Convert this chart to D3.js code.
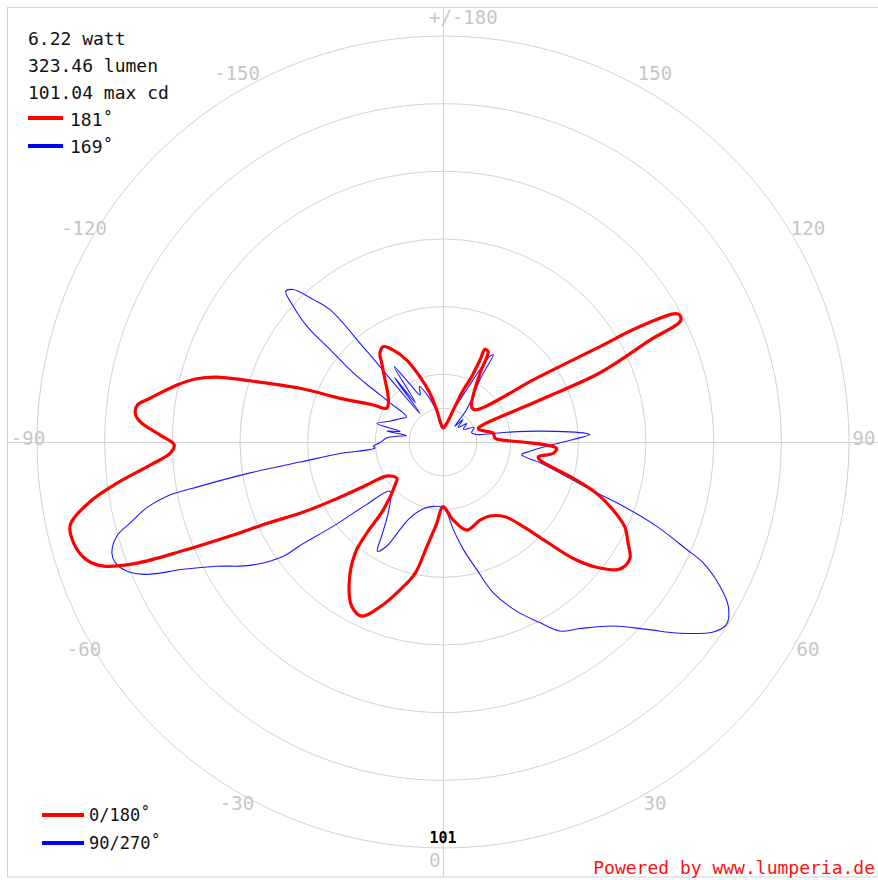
<!DOCTYPE html>
<html>
<head>
<meta charset="utf-8">
<script src="https://cdn.jsdelivr.net/npm/d3@7"></script>
<style>
  body { margin: 0; background: #fff; }
  svg { display: block; }
</style>
</head>
<body>
<div id="plot"></div>
<script>
// Chart size and polar centre
const width = 878;
const height = 880;
const cx = 443, cy = 442, radius = 406;

// Texts and ticks
const maxCd = 101.04;
const infoLines = ["6.22 watt", "323.46 lumen", "101.04 max cd"];
const beamLabels = ["181˚", "169˚"];
const planeLabels = ["0/180˚", "90/270˚"];
const ringValues = [8.42, 16.84, 33.68, 50.52, 67.36, 84.2, 101.04];
const angleTicks = [-150, -120, -90, -60, -30, 0, 30, 60, 90, 120, 150, 180];
const angleTickLabels = ["-150", "-120", "-90", "-60", "-30", "0", "30", "60", "90", "120", "150", "+/-180"];

// C0/180 plane (red), angle in degrees, intensity in cd
const redAngles = [-180, -168.9, -165.1, -160.6, -156.1, -151.6, -147.9, -144.6, -142.1, -136.9,
  -129.6, -121.1, -118, -113, -110.6, -107.6, -106, -104.4, -102.1, -98.5,
  -96.9, -95.3, -93.8, -91.4, -89.4, -87.6, -85.5, -82.8, -80.4, -77.5,
  -74.7, -71.7, -69.9, -68.4, -67.3, -66.1, -65.2, -63.5, -62.1, -60.6,
  -58.9, -51.9, -48.1, -41.3, -39.9, -38.3, -33.6, -29, -25, -20.9,
  -16.2, -12, -8.8, -4.4, 0, 7.5, 15.1, 25.4, 32.4, 39.7,
  43.5, 46.1, 48.2, 50.8, 54.3, 58.1, 61.3, 65, 68.2, 71.5,
  74.4, 79.5, 81.2, 84.2, 86.8, 88.3, 90.2, 94.1, 99.8, 108,
  111.2, 113.4, 113.8, 116.2, 117.1, 118.6, 120.4, 121.3, 124.3, 135,
  140.9, 151.7, 153.4, 155.6, 155.7, 156.3, 158.7, 162.2, 168.8];
const redValues = [3.5, 8.1, 12.5, 17.2, 22.3, 26, 28, 27.1, 24.8, 21.1,
  17.7, 16.3, 19.6, 27.8, 38, 50.4, 58.6, 63.3, 67.7, 73.7,
  76.6, 76.9, 75.5, 70.4, 66.9, 68, 73.1, 81.8, 89.1, 95,
  95.3, 93.4, 89.9, 81.9, 70, 57.1, 48.3, 39.8, 30.9, 21.8,
  16.4, 14.6, 16, 22.5, 29.6, 35.3, 42.2, 46.8, 47.8, 43.9,
  38.3, 33.4, 26.4, 20.3, 16.1, 19.6, 22.7, 21.5, 21.8, 24.2,
  29, 35.8, 43.5, 49.3, 54.2, 54.8, 52.5, 49.9, 45.6, 40.3,
  33.7, 24.5, 24, 27.6, 28.3, 25.8, 19.2, 13, 12.7, 9.7,
  9.4, 26.3, 42.7, 57.4, 66.5, 66.6, 56.8, 45.7, 28.3, 11.3,
  11.3, 19.4, 25.1, 25.3, 22.4, 17.7, 13.9, 8.4, 4.7];

// C90/270 plane (blue)
const blueAngles = [-180, -175, -168, -162, -157, -154, -150, -147, -145, -143,
  -141, -140, -139.5, -137.7, -135.5, -133.8, -132.2, -130.4, -129.3, -127.6,
  -127, -126.5, -124.5, -118.4, -111.4, -105.6, -104, -101, -100, -97.1,
  -94.3, -89.3, -86.6, -85, -83.6, -82, -80.9, -79.7, -78.9, -77.5,
  -75.5, -73.9, -71.5, -69.8, -67.8, -65.9, -63.9, -61.2, -57.4, -54.4,
  -54.1, -52.5, -50.7, -47.1, -37.7, -33.1, -31, -28.4, -26.2, -23.5,
  -16.4, -8.6, -1.1, 3, 6.7, 10.7, 14.8, 18.4, 23.5, 28.2,
  31.7, 36.3, 42.8, 47.4, 51.1, 54.9, 57.2, 60.1, 62.5, 65.1,
  66.2, 68.5, 70.4, 72.1, 75.6, 77.9, 80, 81, 84, 88.7,
  91.1, 92.9, 93.4, 96.4, 98.7, 102.5, 108, 115, 122, 128,
  134, 138.4, 142.8, 143.9, 149.4, 150.1, 151.3, 155.7, 164.8, 172.8];
const blueValues = [4, 5, 8, 12, 15, 13, 17, 22.3, 12, 20,
  9, 30, 43.3, 47.9, 53.2, 54.2, 50.3, 44.5, 36.3, 28.2,
  21.7, 16.4, 11, 12.2, 14.2, 17.1, 11, 14.3, 9.2, 11.6,
  14, 15.7, 17.4, 17, 25.8, 35.9, 48.6, 61.4, 70, 75.5,
  80.4, 84.5, 86.9, 86.9, 85, 80.7, 72, 64.2, 57, 48.8,
  43.9, 34.4, 24.5, 18, 22.3, 28, 31.7, 29.5, 24.3, 20.6,
  17.3, 16.2, 16.2, 17.5, 21.9, 27.2, 32.8, 39.5, 45.9, 51,
  55.3, 57.6, 62.4, 68.9, 75.8, 82.2, 83.9, 81.9, 77.7, 71.4,
  66.3, 57.1, 47.6, 38.4, 29.2, 24.7, 20.3, 19.8, 21.8, 27.4,
  32.4, 36.6, 35.8, 24.3, 16, 8.6, 7.5, 8.5, 6, 7.5,
  5.2, 7.5, 4.9, 10, 18.1, 25.1, 24.3, 14.3, 6.7, 4];

const svg = d3.select("#plot")
  .append("svg")
  .attr("width", width)
  .attr("height", height);

const mono = "'DejaVu Sans Mono', 'Liberation Mono', monospace";
const gridColor = "#d2d2d2";

// Scales: 0 deg points down, +90 to the right, 180 up
const r = d3.scaleLinear().domain([0, maxCd]).range([0, radius]);
const a = d3.scaleLinear().domain([0, 180]).range([Math.PI, 0]);

// Frame
svg.append("rect")
  .attr("x", 7.5).attr("y", 7.5)
  .attr("width", 900).attr("height", 869.5)
  .attr("fill", "none")
  .attr("stroke", gridColor);

const plot = svg.append("g").attr("transform", `translate(${cx},${cy})`);

// Rings
plot.selectAll("circle.ring")
  .data(ringValues)
  .join("circle")
  .attr("class", "ring")
  .attr("r", d => r(d))
  .attr("fill", "none")
  .attr("stroke", gridColor);

// Axis cross
plot.append("line")
  .attr("x1", 7.5 - cx).attr("x2", width - cx)
  .attr("y1", 0.5).attr("y2", 0.5)
  .attr("stroke", gridColor);
plot.append("line")
  .attr("x1", 0.5).attr("x2", 0.5)
  .attr("y1", 7.5 - cy).attr("y2", 877 - cy)
  .attr("stroke", gridColor);

// Angle labels
const labelR = 418;
plot.selectAll("text.angle")
  .data(angleTicks)
  .join("text")
  .attr("class", "angle")
  .attr("x", d => (d === 0 || d === 180) ? -14 : labelR * Math.sin(a(d)) + 3)
  .attr("y", d => d === 180 ? -425 : (d === 0 ? 418 : -421 * Math.cos(a(d)) - 4))
  .attr("text-anchor", d => (d === 0 || d === 180) ? "start" : "middle")
  .attr("dominant-baseline", "central")
  .attr("font-family", mono)
  .attr("font-size", "19px")
  .attr("fill", "#c6c6c6")
  .text((d, i) => angleTickLabels[i]);

// Curves
const radialLine = d3.lineRadial()
  .angle(d => a(d[0]))
  .radius(d => r(d[1]))
  .curve(d3.curveCatmullRomClosed.alpha(0.5));

plot.append("path")
  .datum(blueAngles.map((t, i) => [t, blueValues[i]]))
  .attr("d", radialLine)
  .attr("fill", "none")
  .attr("stroke", "#1a1aff")
  .attr("stroke-width", 1.1);

plot.append("path")
  .datum(redAngles.map((t, i) => [t, redValues[i]]))
  .attr("d", radialLine)
  .attr("fill", "none")
  .attr("stroke", "#ff0000")
  .attr("stroke-width", 3.2)
  .attr("stroke-linejoin", "round");

// Max cd label on the outer ring
svg.append("text")
  .attr("x", cx).attr("y", 843)
  .attr("text-anchor", "middle")
  .attr("font-family", mono)
  .attr("font-size", "15px")
  .attr("font-weight", "bold")
  .attr("fill", "#000")
  .text(Math.round(maxCd));

// Info text, top left
svg.selectAll("text.info")
  .data(infoLines)
  .join("text")
  .attr("class", "info")
  .attr("x", 28)
  .attr("y", (d, i) => 45 + i * 27)
  .attr("font-family", mono)
  .attr("font-size", "18px")
  .attr("fill", "#111")
  .text(d => d);

const colors = ["#ff0000", "#0000ff"];

// Beam angle legend
const beam = svg.append("g");
beam.selectAll("line")
  .data(beamLabels)
  .join("line")
  .attr("x1", 28).attr("x2", 63)
  .attr("y1", (d, i) => 118 + i * 28)
  .attr("y2", (d, i) => 118 + i * 28)
  .attr("stroke", (d, i) => colors[i])
  .attr("stroke-width", 4);
beam.selectAll("text")
  .data(beamLabels)
  .join("text")
  .attr("x", 70)
  .attr("y", (d, i) => 126 + i * 27)
  .attr("font-family", mono)
  .attr("font-size", "18px")
  .attr("fill", "#111")
  .text(d => d);

// Plane legend, bottom left
const planes = svg.append("g");
planes.selectAll("line")
  .data(planeLabels)
  .join("line")
  .attr("x1", 42).attr("x2", 84)
  .attr("y1", (d, i) => 815 + i * 28)
  .attr("y2", (d, i) => 815 + i * 28)
  .attr("stroke", (d, i) => colors[i])
  .attr("stroke-width", 4);
planes.selectAll("text")
  .data(planeLabels)
  .join("text")
  .attr("x", 89)
  .attr("y", (d, i) => 821 + i * 28)
  .attr("font-family", mono)
  .attr("font-size", "17px")
  .attr("fill", "#111")
  .text(d => d);

// Credit
svg.append("text")
  .attr("x", 875).attr("y", 874)
  .attr("text-anchor", "end")
  .attr("font-family", mono)
  .attr("font-size", "18px")
  .attr("fill", "#ff1010")
  .text("Powered by www.lumperia.de");
</script>
</body>
</html>
